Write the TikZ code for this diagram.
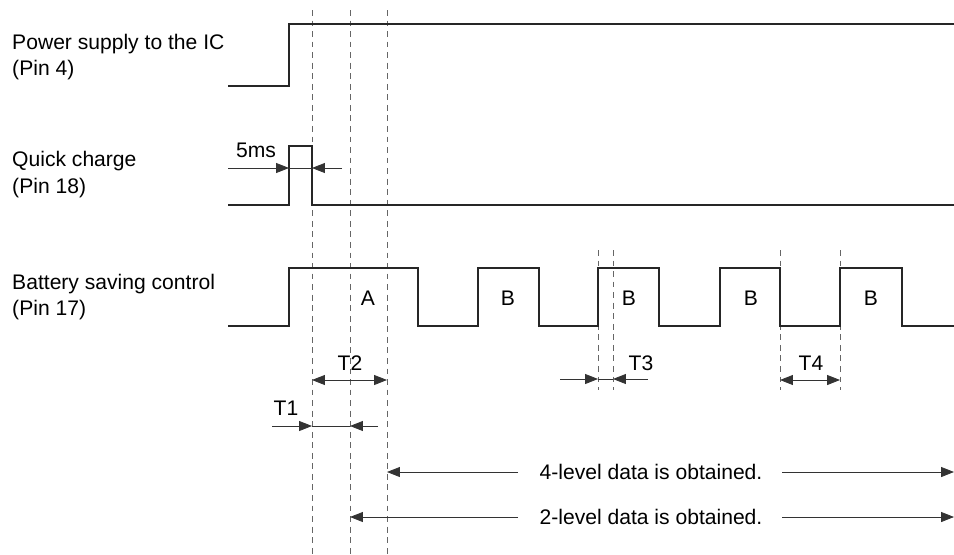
\documentclass[tikz,border=0pt]{standalone}
\usepackage{fontspec}
\setmainfont{Liberation Sans}
\usetikzlibrary{arrows.meta, positioning}
\tikzstyle{signame} = [anchor=base west, inner sep=0pt, font=\fontsize{18}{21}\selectfont]
\tikzstyle{tag} = [anchor=base, inner sep=0pt, font=\fontsize{18}{21}\selectfont]
\tikzstyle{signal} = [line width=1.5pt, black!85]
\tikzstyle{guide} = [dash pattern=on 5pt off 4pt, line width=0.6pt, black!60]
\tikzstyle{dim} = [line width=0.7pt, black!80, >={Triangle[length=11pt, width=8.5pt]}]

\begin{document}
\begin{tikzpicture}[x=0.03cm, y=-0.03cm]
    \useasboundingbox (0,0) rectangle (954,554);

    % signal names
    \node (power) [signame] at (12,49) {Power supply to the IC};
    \node (powerpin) [signame] at (12,75) {(Pin 4)};
    \node (quick) [signame] at (12,166) {Quick charge};
    \node (quickpin) [signame] at (12,193) {(Pin 18)};
    \node (batt) [signame] at (12,289) {Battery saving control};
    \node (battpin) [signame] at (12,315) {(Pin 17)};

    % timing guides
    \draw [guide] (312,10) -- (312,554);
    \draw [guide] (350,10) -- (350,554);
    \draw [guide] (387,10) -- (387,554);
    \draw [guide] (598,250) -- (598,390);
    \draw [guide] (613,250) -- (613,390);
    \draw [guide] (780,250) -- (780,390);
    \draw [guide] (840,250) -- (840,390);

    % waveforms
    \draw [signal] (228,86) -- (289,86) -- (289,24) -- (954,24);
    \draw [signal] (228,205) -- (289,205) -- (289,146) -- (312,146) -- (312,205) -- (954,205);
    \draw [signal] (228,326) -- (289,326) -- (289,268) -- (418,268) -- (418,326)
        -- (478,326) -- (478,268) -- (539,268) -- (539,326)
        -- (598,326) -- (598,268) -- (659,268) -- (659,326)
        -- (720,326) -- (720,268) -- (780,268) -- (780,326)
        -- (840,326) -- (840,268) -- (902,268) -- (902,326) -- (954,326);

    \node (pa) [tag] at (368,305) {A};
    \node (pb1) [tag] at (508,305) {B};
    \node (pb2) [tag] at (629,305) {B};
    \node (pb3) [tag] at (751,305) {B};
    \node (pb4) [tag] at (871,305) {B};

    % 5ms
    \node (ms) [tag] at (256,157) {5ms};
    \coordinate (msL) at (228,168);
    \coordinate (msA) at (289,168);
    \coordinate (msB) at (312,168);
    \coordinate (msR) at (342,168);
    \draw [dim, ->] (msL) -- (msA);
    \draw [dim] (msA) -- (msB);
    \draw [dim, ->] (msR) -- (msB);

    % T1
    \node (tone) [tag] at (286,415) {T1};
    \coordinate (t1L) at (272,426);
    \coordinate (t1A) at (312,426);
    \coordinate (t1B) at (350,426);
    \coordinate (t1R) at (378,426);
    \draw [dim, ->] (t1L) -- (t1A);
    \draw [dim] (t1A) -- (t1B);
    \draw [dim, ->] (t1R) -- (t1B);

    % T2
    \node (ttwo) [tag] at (350,370) {T2};
    \coordinate (t2A) at (312,380);
    \coordinate (t2B) at (387,380);
    \draw [dim, <->] (t2A) -- (t2B);

    % T3
    \node (tthree) [tag] at (641,370) {T3};
    \coordinate (t3L) at (560,379);
    \coordinate (t3A) at (598,379);
    \coordinate (t3B) at (613,379);
    \coordinate (t3R) at (648,379);
    \draw [dim, ->] (t3L) -- (t3A);
    \draw [dim] (t3A) -- (t3B);
    \draw [dim, ->] (t3R) -- (t3B);

    % T4
    \node (tfour) [tag] at (811,370) {T4};
    \coordinate (t4A) at (780,380);
    \coordinate (t4B) at (840,380);
    \draw [dim, <->] (t4A) -- (t4B);

    % data ranges
    \node (four) [tag] at (651,479) {4-level data is obtained.};
    \coordinate (fourL) at (387,472);
    \coordinate (fourR) at (954,472);
    \draw [dim, ->] (518,472) -- (fourL);
    \draw [dim, ->] (782,472) -- (fourR);

    \node (two) [tag] at (651,524) {2-level data is obtained.};
    \coordinate (twoL) at (350,517);
    \coordinate (twoR) at (954,517);
    \draw [dim, ->] (518,517) -- (twoL);
    \draw [dim, ->] (782,517) -- (twoR);
\end{tikzpicture}
\end{document}
